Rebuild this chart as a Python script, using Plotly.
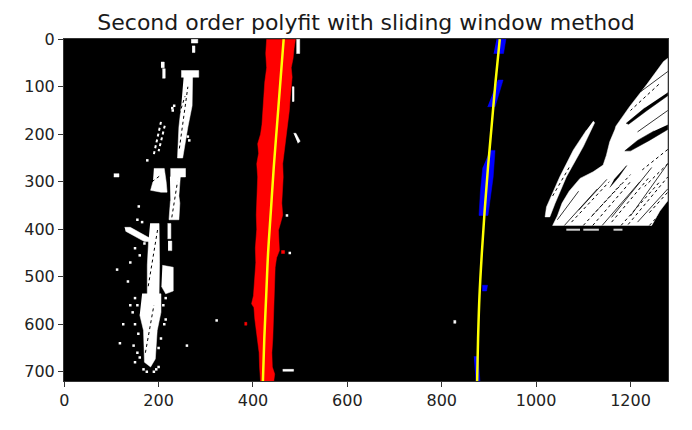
import plotly.graph_objects as go

IMG_W = 1280
IMG_H = 720

# polyfit curves: x at these rows
fit_y = [0, 90, 180, 270, 360, 450, 540, 630, 720]
left_fit_x = [465, 458, 451, 444, 438, 432, 428, 424, 421]
right_fit_x = [923, 914, 906, 898, 891, 885, 880, 877, 875]

# left lane pixels (red) - outline, left edge down then right edge up
left_lane_px = [
    (429, 0), (427, 30), (429, 60), (425, 90), (423, 120), (421, 150), (419, 180),
    (416, 200), (410, 220), (412, 240), (408, 262), (410, 290), (408, 330),
    (407, 370), (408, 400), (405, 440), (406, 470), (404, 510), (401, 540),
    (397, 557), (402, 565), (404, 590), (407, 613), (410, 640), (413, 660),
    (414, 690), (416, 720),
    (444, 720), (446, 705), (441, 690), (440, 660), (442, 630), (443, 600),
    (444, 570), (444, 543), (446, 510), (447, 480), (450, 460), (456, 445),
    (455, 425), (454, 402), (459, 385), (463, 370), (461, 345), (462, 320),
    (464, 290), (463, 262), (466, 240), (468, 220), (472, 191), (474, 170),
    (477, 150), (479, 121), (481, 100), (483, 80), (481, 60), (485, 40),
    (487, 20), (490, 0),
]
red_bits = [
    [(460, 445), (467, 445), (467, 451), (460, 451)],
    [(382, 596), (387, 596), (387, 602), (382, 602)],
]

# right lane pixels (blue)
right_lane_px = [
    [(916, 0), (936, 0), (931, 30), (910, 30)],
    [(919, 86), (930, 86), (913, 142), (897, 142)],
    [(902, 234), (913, 234), (909, 290), (902, 340), (898, 371), (879, 371),
     (882, 320), (887, 270)],
    [(886, 518), (897, 518), (895, 530), (886, 530)],
    [(868, 668), (877, 668), (881, 720), (872, 720)],
]

# white pixels, left side of the road (rectangles x0, x1, y0, y1)
white_rects = [
    (269, 283, 0, 8), (271, 277, 14, 28), (248, 285, 66, 80), (205, 212, 48, 60),
    (208, 214, 62, 82), (105, 116, 283, 290), (225, 257, 272, 290),
    (219, 226, 388, 420), (220, 228, 425, 445), (492, 499, 0, 30),
    (483, 487, 100, 131), (463, 486, 695, 699), (825, 830, 592, 598),
]
white_left = [
    [(253, 80), (272, 80), (271, 140), (262, 185), (251, 250), (240, 250),
     (243, 185), (248, 140)],
    [(190, 272), (212, 272), (216, 300), (218, 322), (205, 322), (183, 318),
     (188, 300)],
    [(224, 290), (246, 290), (243, 330), (245, 345), (243, 380), (222, 380),
     (225, 340)],
    [(128, 396), (140, 396), (180, 418), (180, 426), (170, 426), (130, 404)],
    [(182, 388), (201, 388), (202, 470), (201, 536), (176, 536), (176, 476),
     (179, 420)],
    [(208, 476), (231, 480), (231, 530), (215, 536), (206, 520)],
    [(165, 536), (205, 536), (205, 575), (197, 613), (193, 673), (183, 690),
     (170, 680), (168, 613), (160, 580)],
    [(486, 198), (491, 198), (500, 215), (495, 219)],
]
white_streaks = [
    [(205, 174), (190, 242)],
    [(213, 182), (200, 236)],
]
white_dots = [
    (112, 485), (150, 440), (160, 455), (170, 430), (155, 380), (165, 385),
    (150, 545), (155, 560), (210, 560), (215, 590), (150, 600), (157, 620),
    (147, 645), (155, 660), (160, 670), (200, 650), (205, 630), (212, 600),
    (150, 680), (175, 700), (195, 695), (260, 645), (323, 592), (158, 352),
    (176, 255), (230, 150), (233, 140), (229, 145), (262, 205), (265, 213),
    (214, 520), (140, 560), (145, 575), (200, 690), (190, 700), (168, 695),
    (186, 650), (478, 450), (472, 371), (140, 470), (135, 510), (125, 600),
    (215, 545), (218, 505), (118, 640),
]
# speckle over the white blocks on the left
left_speckle = [
    [(240, 170), (256, 120)], [(244, 230), (262, 100)], [(178, 520), (198, 400)],
    [(172, 660), (190, 560)], [(186, 300), (206, 285)], [(228, 375), (240, 300)],
]

# white pixels, right side (one blob plus the thin streak on its left)
white_right = [
    [(1279, 40), (1270, 47), (1234, 96), (1198, 142), (1169, 183), (1167, 190),
     (1156, 216), (1149, 244), (1142, 265), (1121, 279), (1093, 293),
     (1070, 320), (1055, 345), (1045, 372), (1035, 392), (1245, 392),
     (1262, 362), (1279, 340)],
    [(1121, 172), (1124, 176), (1100, 226), (1064, 290), (1040, 346), (1029, 374),
     (1019, 374), (1022, 353), (1050, 290), (1079, 233), (1107, 191)],
]
# dark gaps running through the right blob
gap_areas = [
    [(1279, 112), (1279, 119), (1235, 150), (1196, 179), (1191, 177), (1230, 145)],
    [(1279, 180), (1279, 190), (1240, 213), (1200, 235), (1188, 235), (1215, 213),
     (1250, 193)],
    [(1165, 296), (1185, 272), (1192, 266), (1175, 290), (1156, 312)],
]
gap_lines = [
    [(1060, 392), (1130, 315)], [(1140, 392), (1220, 300)],
    [(1215, 385), (1279, 315)], [(1090, 360), (1150, 295)],
    [(1160, 375), (1245, 270)], [(1200, 372), (1279, 262)],
    [(1279, 68), (1222, 110)], [(1279, 150), (1215, 195)],
    [(1045, 380), (1090, 320)],
]
gap_dotted = [
    [(1075, 385), (1155, 300)], [(1100, 392), (1180, 305)],
    [(1160, 385), (1240, 290)], [(1180, 392), (1262, 300)],
    [(1260, 95), (1200, 150)], [(1040, 360), (1080, 300)],
    [(1120, 392), (1200, 300)], [(1240, 392), (1279, 350)],
    [(1279, 262), (1230, 310)], [(1120, 370), (1200, 285)],
    [(1279, 232), (1225, 275)], [(1240, 365), (1279, 322)],
    [(1035, 330), (1070, 270)], [(1195, 390), (1279, 290)],
]
dash_lines = [
    [(1064, 401), (1093, 401)], [(1100, 401), (1133, 401)],
    [(1164, 401), (1183, 401)],
]


def polys_to_xy(polys):
    xs, ys = [], []
    for poly in polys:
        for x, y in poly:
            xs.append(x)
            ys.append(y)
        xs.append(None)
        ys.append(None)
    return xs, ys


def rects_to_polys(rects):
    return [[(x0, y0), (x1, y0), (x1, y1), (x0, y1)] for x0, x1, y0, y1 in rects]


def filled(polys, color):
    xs, ys = polys_to_xy(polys)
    return go.Scatter(x=xs, y=ys, mode='lines', fill='toself', fillcolor=color,
                      line=dict(color=color, width=0.5), hoverinfo='skip')


def segments(segs, color, width, dash='solid'):
    xs, ys = polys_to_xy(segs)
    return go.Scatter(x=xs, y=ys, mode='lines',
                      line=dict(color=color, width=width, dash=dash),
                      hoverinfo='skip')


fig = go.Figure()

fig.add_trace(filled(white_left + rects_to_polys(white_rects), 'white'))
fig.add_trace(segments(left_speckle, 'black', 1, 'dot'))
fig.add_trace(segments(white_streaks, 'white', 2, 'dot'))
fig.add_trace(go.Scatter(x=[p[0] for p in white_dots], y=[p[1] for p in white_dots],
                         mode='markers', hoverinfo='skip',
                         marker=dict(symbol='square', size=2.5, color='white')))
fig.add_trace(filled(white_right, 'white'))
fig.add_trace(filled(gap_areas, 'black'))
fig.add_trace(segments(gap_lines, 'black', 0.8))
fig.add_trace(segments(gap_dotted, 'black', 1, 'dot'))
fig.add_trace(segments(dash_lines, '#cfcfcf', 2))

fig.add_trace(filled([left_lane_px] + red_bits, '#ff0000'))
fig.add_trace(filled(right_lane_px, '#0000ff'))

fig.add_trace(go.Scatter(x=left_fit_x, y=fit_y, mode='lines', line_shape='spline',
                         line=dict(color='#ffff00', width=2.5), hoverinfo='skip'))
fig.add_trace(go.Scatter(x=right_fit_x, y=fit_y, mode='lines', line_shape='spline',
                         line=dict(color='#ffff00', width=2.5), hoverinfo='skip'))

axis_font = dict(family='DejaVu Sans', size=16, color='#222222')

# page body adds an 8px offset, so the figure is 8px smaller than the window
fig.update_layout(
    width=684, height=422, autosize=False,
    margin=dict(l=56, r=24, t=31, b=49),
    paper_bgcolor='white', plot_bgcolor='black',
    showlegend=False,
    title=dict(text='Second order polyfit with sliding window method',
               x=0.5, xref='paper', xanchor='center',
               y=1 - 14 / 422, yanchor='middle',
               font=dict(family='DejaVu Sans', size=22, color='#1a1a1a')),
)
fig.update_xaxes(range=[-0.5, IMG_W - 0.5], tickvals=[0, 200, 400, 600, 800, 1000, 1200],
                 showgrid=False, zeroline=False, ticks='outside', ticklen=5,
                 tickcolor='#333333', showline=True, linecolor='#333333', linewidth=1,
                 mirror=True, tickfont=axis_font, automargin=False)
fig.update_yaxes(range=[IMG_H - 0.5, -0.5], tickvals=[0, 100, 200, 300, 400, 500, 600, 700],
                 showgrid=False, zeroline=False, ticks='outside', ticklen=5,
                 tickcolor='#333333', showline=True, linecolor='#333333', linewidth=1,
                 mirror=True, tickfont=axis_font, automargin=False)

fig.write_html("out.html")
